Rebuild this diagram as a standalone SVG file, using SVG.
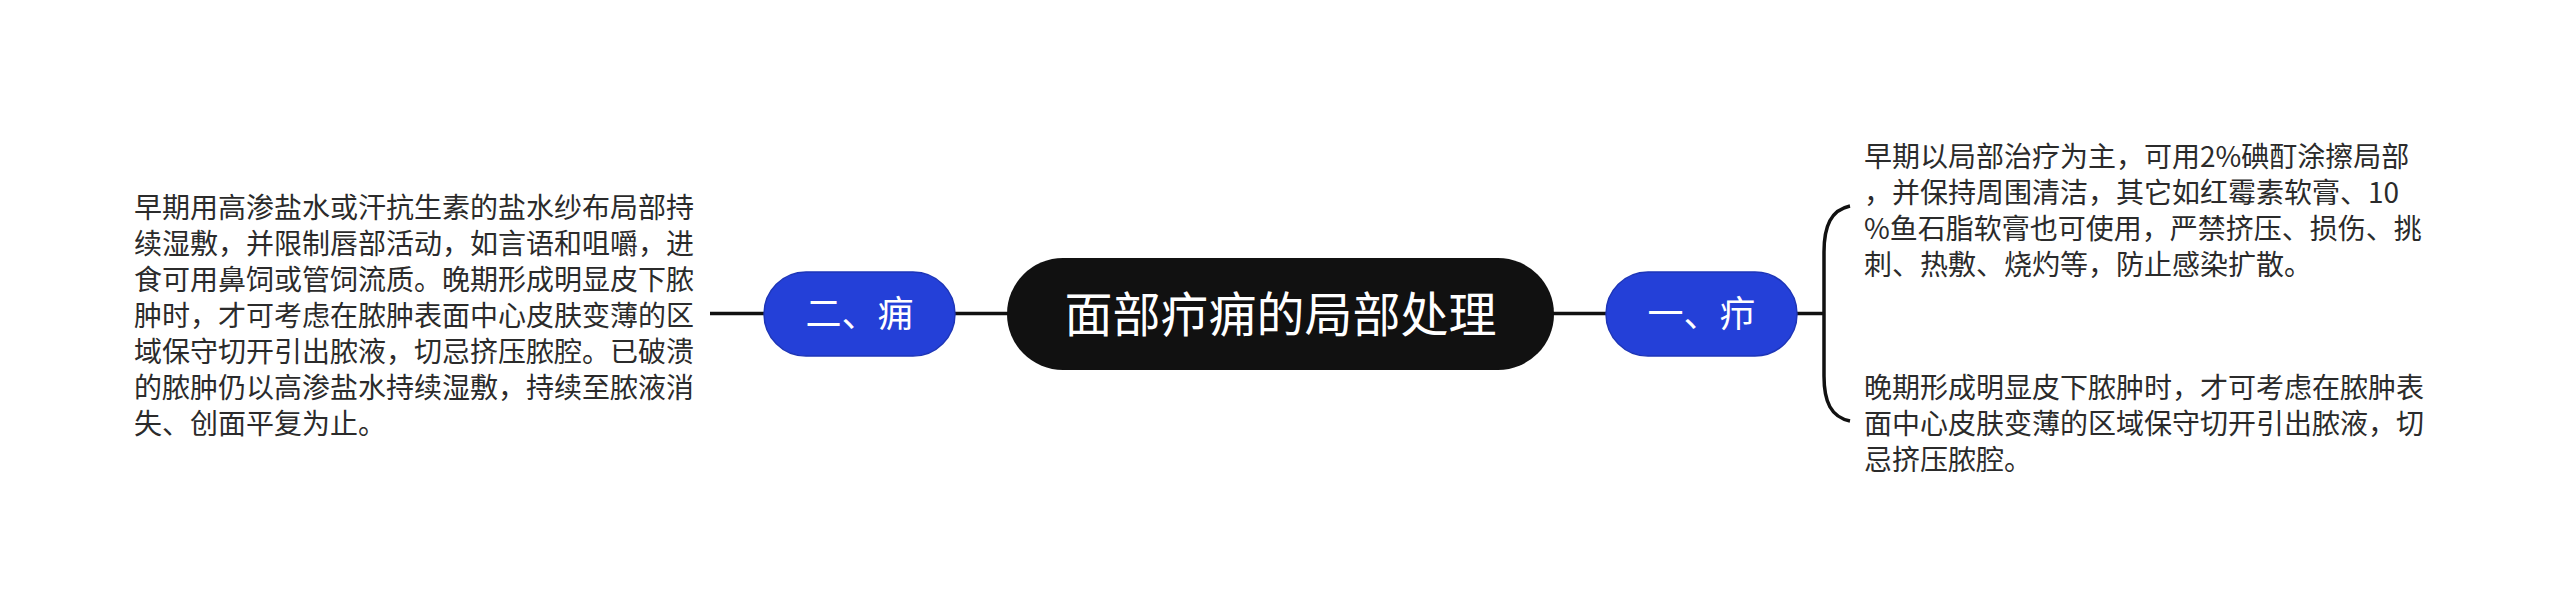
<svg xmlns="http://www.w3.org/2000/svg" width="2560" height="610" viewBox="0 0 2560 610">
<style>
.t{font-family:"Noto Sans CJK SC","Noto Sans",sans-serif;font-size:28px;fill:#2b2b2b}
.c{fill:none;stroke:#111111;stroke-width:3.5}
.b{fill:#2440D8;stroke:#1D35B8;stroke-width:1.5}
.bt{font-family:"Noto Sans CJK SC","Noto Sans",sans-serif;font-size:36px;fill:#ffffff;text-anchor:middle}
</style>
<rect width="2560" height="610" fill="#ffffff"/>
<g id="connectors">
<line class="c" x1="710" y1="313.5" x2="764" y2="313.5"/>
<line class="c" x1="955" y1="313.5" x2="1008" y2="313.5"/>
<line class="c" x1="1553" y1="313.5" x2="1606" y2="313.5"/>
<line class="c" x1="1796" y1="313.5" x2="1824" y2="313.5"/>
<path class="c" d="M1850,206 C1831,210 1824,226 1824,252 L1824,376 C1824,402 1831,417 1850,421"/>
</g>
<g id="root">
<rect x="1007" y="258" width="547" height="112" rx="56" fill="#111111"/>
<text x="1280.5" y="332" font-family="Noto Sans CJK SC, Noto Sans, sans-serif" font-size="48" fill="#ffffff" text-anchor="middle">面部疖痈的局部处理</text>
</g>
<g id="node-yong">
<rect class="b" x="764" y="272" width="191" height="84" rx="42"/>
<text class="bt" x="859.5" y="327">二、痈</text>
</g>
<g id="node-jie">
<rect class="b" x="1606" y="272" width="191" height="84" rx="42"/>
<text class="bt" x="1701.5" y="327">一、疖</text>
</g>
<g id="text-yong">
<text class="t" x="134" y="218">早期用高渗盐水或汗抗生素的盐水纱布局部持</text>
<text class="t" x="134" y="254">续湿敷，并限制唇部活动，如言语和咀嚼，进</text>
<text class="t" x="134" y="290">食可用鼻饲或管饲流质。晚期形成明显皮下脓</text>
<text class="t" x="134" y="326">肿时，才可考虑在脓肿表面中心皮肤变薄的区</text>
<text class="t" x="134" y="362">域保守切开引出脓液，切忌挤压脓腔。已破溃</text>
<text class="t" x="134" y="398">的脓肿仍以高渗盐水持续湿敷，持续至脓液消</text>
<text class="t" x="134" y="434">失、创面平复为止。</text>
</g>
<g id="text-jie-1">
<text class="t" x="1864" y="167">早期以局部治疗为主，可用2%碘酊涂擦局部</text>
<text class="t" x="1864" y="203">，并保持周围清洁，其它如红霉素软膏、10</text>
<text class="t" x="1864" y="239">%鱼石脂软膏也可使用，严禁挤压、损伤、挑</text>
<text class="t" x="1864" y="275">刺、热敷、烧灼等，防止感染扩散。</text>
</g>
<g id="text-jie-2">
<text class="t" x="1864" y="398">晚期形成明显皮下脓肿时，才可考虑在脓肿表</text>
<text class="t" x="1864" y="434">面中心皮肤变薄的区域保守切开引出脓液，切</text>
<text class="t" x="1864" y="470">忌挤压脓腔。</text>
</g>
</svg>
